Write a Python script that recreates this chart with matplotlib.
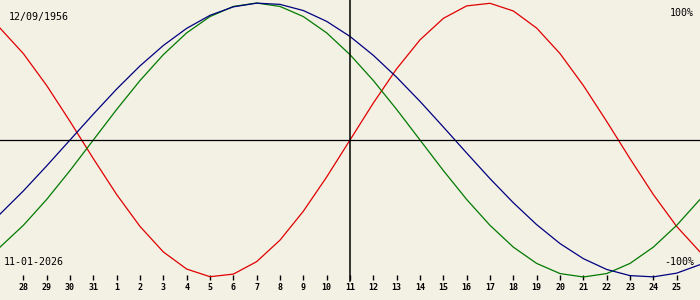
import matplotlib
matplotlib.use("Agg")
import matplotlib.pyplot as plt

# biorhythm chart, born 12/09/1956, centred on 11-01-2026
# day offsets from the centre day, one point per day
offsets = list(range(-15, 16))
day_labels = ["28", "29", "30", "31", "1", "2", "3", "4", "5", "6", "7", "8", "9", "10",
              "11", "12", "13", "14", "15", "16", "17", "18", "19", "20", "21", "22",
              "23", "24", "25"]
tick_offsets = list(range(-14, 15))

# values in percent
physical = [81.7, 63.1, 39.8, 13.6, -13.6, -39.8, -63.1, -81.7, -94.2, -99.8, -97.9,
            -88.8, -73.1, -52.0, -27.0, 0.0, 27.0, 52.0, 73.1, 88.8, 97.9, 99.8,
            94.2, 81.7, 63.1, 39.8, 13.6, -13.6, -39.8, -63.1, -81.7]
emotional = [-78.2, -62.3, -43.4, -22.3, 0.0, 22.3, 43.4, 62.3, 78.2, 90.1, 97.5,
             100.0, 97.5, 90.1, 78.2, 62.3, 43.4, 22.3, 0.0, -22.3, -43.4, -62.3,
             -78.2, -90.1, -97.5, -100.0, -97.5, -90.1, -78.2, -62.3, -43.4]
intellectual = [-54.1, -37.2, -18.9, 0.0, 18.9, 37.2, 54.1, 69.0, 81.5, 91.0, 97.2,
                99.9, 99.0, 94.5, 86.6, 75.6, 61.8, 45.8, 28.2, 9.5, -9.5, -28.2,
                -45.8, -61.8, -75.6, -86.6, -94.5, -99.0, -99.9, -97.2, -91.0]

bg = "#f3f0e4"
mono = "DejaVu Sans Mono"

fig = plt.figure(figsize=(7, 3), dpi=100, facecolor=bg)
ax = fig.add_axes([0, 0, 1, 1])
ax.set_facecolor(bg)

ax.plot(offsets, physical, color="#e00000", lw=0.9)
ax.plot(offsets, emotional, color="#007a00", lw=0.9)
ax.plot(offsets, intellectual, color="#000080", lw=0.9)

ax.set_xlim(-15, 15)
ax.set_ylim(-116.8, 102.2)

ax.axhline(0, color="black", lw=0.9)
ax.axvline(0, ymin=0.063, ymax=1, color="black", lw=1.1)

for s in ["top", "left", "right"]:
    ax.spines[s].set_visible(False)
ax.spines["bottom"].set_position(("data", -102.2))
ax.spines["bottom"].set_visible(False)
ax.set_yticks([])
ax.set_xticks(tick_offsets)
ax.set_xticklabels(day_labels, fontfamily=mono, fontsize=6, fontweight="bold")
ax.tick_params(axis="x", direction="in", length=3.6, width=1, pad=2.5, colors="black")

ax.text(9 / 700, 1 - 16.7 / 300, "12/09/1956", transform=ax.transAxes, ha="left",
        va="center", fontfamily=mono, fontsize=7.2)
ax.text(4 / 700, 1 - 262 / 300, "11-01-2026", transform=ax.transAxes, ha="left",
        va="center", fontfamily=mono, fontsize=7.2)
ax.text(694 / 700, 1 - 13 / 300, "100%", transform=ax.transAxes, ha="right",
        va="center", fontfamily=mono, fontsize=7.2)
ax.text(694 / 700, 1 - 262 / 300, "-100%", transform=ax.transAxes, ha="right",
        va="center", fontfamily=mono, fontsize=7.2)

fig.savefig("out.png", dpi=100, facecolor=bg)
